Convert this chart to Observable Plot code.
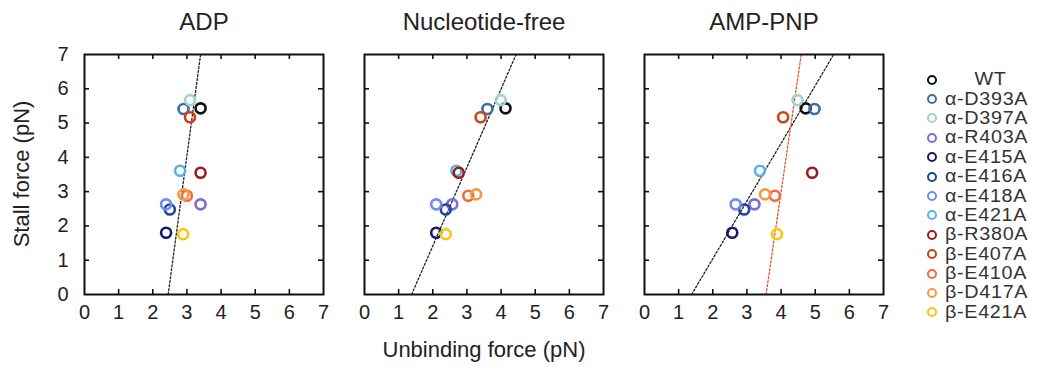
<!DOCTYPE html>
<html>
<head>
<meta charset="utf-8">
<script src="https://cdn.jsdelivr.net/npm/d3@7"></script>
<script src="https://cdn.jsdelivr.net/npm/@observablehq/plot@0.6"></script>
<style>
  html, body { margin: 0; padding: 0; background: #fff; }
  #wrap { position: relative; width: 1041px; height: 370px; font-family: "Liberation Sans", Arial, Helvetica, sans-serif; color: #222; }
  #chart { position: absolute; left: 0; top: 0; }
  .axlabel { position: absolute; font-size: 22px; line-height: 24px; text-align: center; color: #222; white-space: nowrap; }
  #legend { position: absolute; left: 927px; top: 70px; }
  .lrow { display: flex; align-items: center; height: 19.4px; }
  .ltext { display: block; font-size: 17.5px; line-height: 19px; height: 19px; color: #333; letter-spacing: 0.6px; white-space: nowrap; transform: scaleX(1.13); transform-origin: left center; }
  .lring { width: 10px; height: 10px; border-radius: 50%; box-sizing: border-box; border: 2.4px solid; margin-right: 8px; flex: none; }
</style>
</head>
<body>
<div id="wrap">
  <div id="chart"></div>
  <div class="axlabel" id="xlab" style="left:0; width:968px; top:338px;"></div>
  <div class="axlabel" id="ylab" style="left:-128px; width:300px; top:162px; transform: rotate(-90deg);"></div>
  <div id="legend"></div>
</div>
<script>
// ---- data ----
const panels = ["ADP", "Nucleotide-free", "AMP-PNP"];
const mutants = ["WT", "α-D393A", "α-D397A", "α-R403A", "α-E415A", "α-E416A", "α-E418A", "α-E421A",
                 "β-R380A", "β-E407A", "β-E410A", "β-D417A", "β-E421A"];
const colors = ["#111111", "#3b6fa6", "#9fd3d3", "#7c6fcf", "#18186e", "#1f43a0", "#6d8cf0", "#57b2e8",
                "#9e1a1a", "#cc4416", "#f46a3c", "#f99840", "#fcc510"];
// stall force (pN), same for each mutant in every panel
const stallForce = [5.43, 5.41, 5.67, 2.63, 1.80, 2.48, 2.63, 3.61, 3.55, 5.17, 2.88, 2.92, 1.76];
// unbinding force (pN) per condition
const unbindADP = [3.40, 2.90, 3.09, 3.40, 2.39, 2.50, 2.39, 2.80, 3.40, 3.09, 3.00, 2.90, 2.89];
const unbindNF  = [4.13, 3.60, 3.99, 2.57, 2.10, 2.38, 2.10, 2.69, 2.76, 3.40, 3.04, 3.27, 2.38];
const unbindAMP = [4.72, 4.98, 4.48, 3.22, 2.57, 2.92, 2.67, 3.38, 4.91, 4.06, 3.82, 3.53, 3.88];
// dotted fit lines: unbinding force at stall force 0 and at 7
const fitPanel = ["ADP", "Nucleotide-free", "AMP-PNP", "AMP-PNP"];
const fitX0 = [2.45, 1.38, 1.38, 3.56];
const fitX1 = [3.40, 4.44, 5.54, 4.59];
const fitY0 = 0, fitY1 = 7;
const fitColor = ["#222222", "#222222", "#222222", "#e4582c"];
const xTicks = [0, 1, 2, 3, 4, 5, 6, 7];
const yTicks = [0, 1, 2, 3, 4, 5, 6, 7];
const xLabel = "Unbinding force (pN)";
const yLabel = "Stall force (pN)";

// ---- build tables ----
const unbind = {"ADP": unbindADP, "Nucleotide-free": unbindNF, "AMP-PNP": unbindAMP};
const points = [];
for (const p of panels) {
  mutants.forEach((m, i) => points.push({panel: p, name: m, x: unbind[p][i], y: stallForce[i], color: colors[i]}));
}
const fits = [];
fitPanel.forEach((p, i) => {
  fits.push({id: i, panel: p, x: fitX0[i], y: fitY0, color: fitColor[i]});
  fits.push({id: i, panel: p, x: fitX1[i], y: fitY1, color: fitColor[i]});
});
const innerTicks = xTicks.slice(1, -1);
const tickStyle = {stroke: "#111", strokeWidth: 1.6};

const chart = Plot.plot({
  width: 890, height: 370,
  marginLeft: 83, marginRight: 5, marginTop: 54, marginBottom: 76,
  style: {fontFamily: "'Liberation Sans', Arial, Helvetica, sans-serif", color: "#222", background: "white", overflow: "visible"},
  fx: {domain: panels, paddingInner: 0.1459, paddingOuter: 0, label: null},
  x: {domain: [0, 7], label: null},
  y: {domain: [0, 7], label: null},
  marks: [
    Plot.axisFx({anchor: "top", tickSize: 0, tickPadding: 25, fontSize: 24, label: null}),
    Plot.axisX({anchor: "bottom", ticks: xTicks, tickSize: 0, tickPadding: 10, fontSize: 20, label: null, tickFormat: d3.format("d")}),
    Plot.axisY({anchor: "left", ticks: yTicks, tickSize: 0, tickPadding: 16, fontSize: 20, label: null, tickFormat: d3.format("d")}),
    Plot.ruleX(innerTicks, {x: d => d, y1: 0, y2: 0, insetTop: -5, ...tickStyle}),
    Plot.ruleX(innerTicks, {x: d => d, y1: 7, y2: 7, insetBottom: -5, ...tickStyle}),
    Plot.ruleY(innerTicks, {y: d => d, x1: 0, x2: 0, insetRight: -5, ...tickStyle}),
    Plot.ruleY(innerTicks, {y: d => d, x1: 7, x2: 7, insetLeft: -5, ...tickStyle}),
    Plot.line(fits, {fx: "panel", x: "x", y: "y", z: "id", stroke: d => d.color, strokeWidth: 1.3, strokeDasharray: "2,2"}),
    Plot.dot(points, {fx: "panel", x: "x", y: "y", r: 5, stroke: d => d.color, strokeWidth: 2.6, fill: "none"}),
    Plot.frame({stroke: "#111", strokeWidth: 2})
  ]
});
document.getElementById("chart").appendChild(chart);
document.getElementById("xlab").textContent = xLabel;
document.getElementById("ylab").textContent = yLabel;

const legend = document.getElementById("legend");
mutants.forEach((m, i) => {
  const row = document.createElement("div");
  row.className = "lrow";
  const ring = document.createElement("span");
  ring.className = "lring";
  ring.style.borderColor = colors[i];
  const t = document.createElement("span");
  t.className = "ltext";
  t.textContent = m;
  if (m === "WT") t.style.paddingLeft = "26px";
  row.appendChild(ring);
  row.appendChild(t);
  legend.appendChild(row);
});
</script>
</body>
</html>
